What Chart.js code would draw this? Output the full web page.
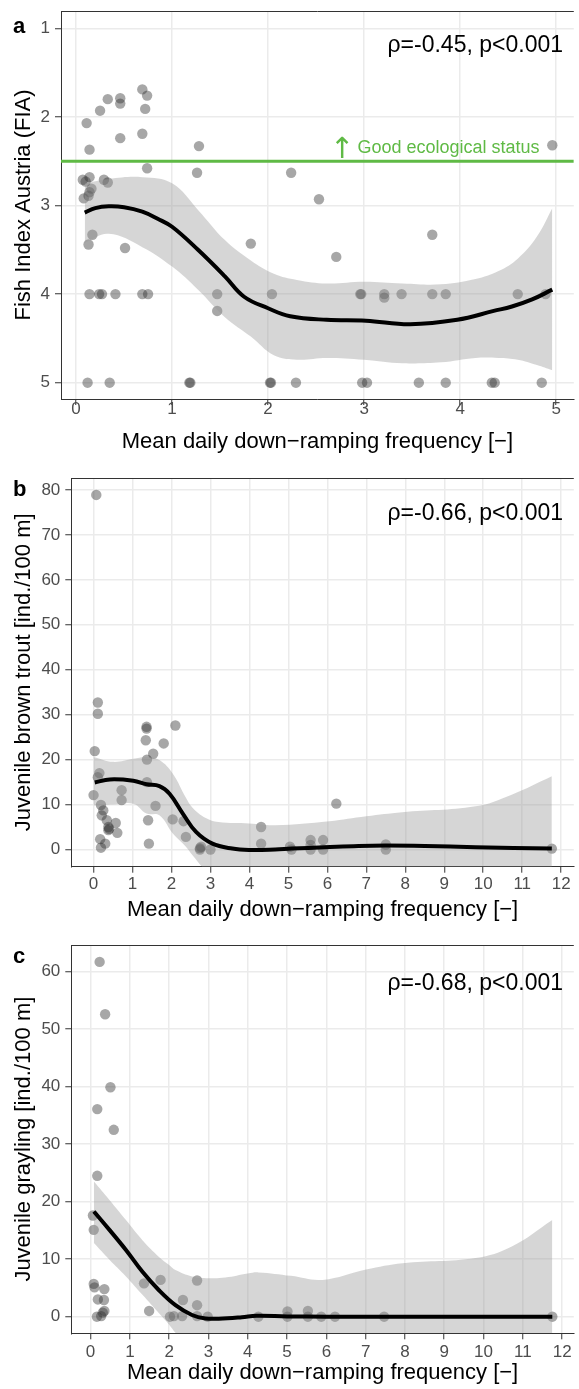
<!DOCTYPE html>
<html><head><meta charset="utf-8">
<script src="https://cdn.jsdelivr.net/npm/chart.js@4/dist/chart.umd.min.js"></script>
<style>
html,body{margin:0;padding:0;background:#fff;width:579px;height:1389px;overflow:hidden;position:relative;}
canvas{position:absolute;left:0;}
</style></head><body>
<canvas id="ca" width="579" height="467" style="top:0px"></canvas>
<canvas id="cb" width="579" height="467" style="top:467px"></canvas>
<canvas id="cc" width="579" height="455" style="top:934px"></canvas>
<script>
// ---------------- DATA ----------------
const xTitle = "Mean daily down\u2212ramping frequency [\u2212]";

// Panel a: Fish Index Austria
const fiaX = [0.69,0.74,0.33,0.46,0.46,0.25,0.72,0.11,0.46,0.69,0.14,1.28,4.96,0.74,1.26,2.24,2.53,0.07,0.14,0.10,0.16,0.14,0.08,0.13,0.29,0.33,0.17,0.13,0.51,1.82,3.71,2.71,
  0.14,0.24,0.27,0.41,0.69,0.75,1.47,2.04,2.96,2.97,3.21,3.39,3.71,3.85,4.60,4.89,3.21,1.47,
  0.12,0.35,1.18,1.19,2.02,2.03,2.29,2.98,3.03,3.57,3.85,4.33,4.36,4.85];
const fiaY = [1.69,1.76,1.80,1.79,1.85,1.93,1.91,2.07,2.24,2.19,2.37,2.33,2.32,2.58,2.63,2.63,2.93,2.71,2.68,2.73,2.81,2.85,2.92,2.89,2.71,2.74,3.33,3.44,3.48,3.43,3.33,3.58,
  4,4,4,4,4,4,4,4,4,4,4,4,4,4,4,4,4.04,4.19,
  5,5,5,5,5,5,5,5,5,5,5,5,5,5];
const fiaSmoothX = [0.09,0.2,0.34,0.5,0.69,0.85,1.0,1.27,1.55,1.75,2.0,2.23,2.61,3.02,3.48,3.97,4.35,4.54,4.75,4.96];
const fiaSmoothY = [3.08,3.03,3.01,3.02,3.07,3.15,3.24,3.50,3.80,4.03,4.16,4.25,4.29,4.30,4.34,4.29,4.19,4.14,4.06,3.95];
const fiaBandX = [0.09,0.34,0.69,1.0,1.27,1.55,1.82,2.06,2.3,2.61,3.0,3.4,3.8,4.16,4.4,4.6,4.8,4.96];
const fiaBandUpper = [2.75,2.70,2.68,2.75,3.05,3.39,3.62,3.77,3.84,3.88,3.86,3.88,3.89,3.83,3.74,3.60,3.35,3.03];
const fiaBandLower = [3.42,3.32,3.47,3.69,3.95,4.26,4.48,4.69,4.74,4.72,4.74,4.78,4.77,4.72,4.72,4.74,4.80,4.86];
const fiaTicksX = [0,1,2,3,4,5];
const fiaTicksY = [1,2,3,4,5];
const goodStatusFIA = 2.5;

// Panel b: Juvenile brown trout
const troutX = [0.07,0.11,0.11,0.03,0.15,0.11,0.0,0.19,0.25,0.21,0.34,0.38,0.38,0.40,0.57,0.61,0.17,0.30,0.19,0.72,0.72,
  1.36,1.36,1.34,1.53,1.37,1.80,2.10,1.37,1.59,1.40,1.42,2.03,2.31,2.37,2.73,2.73,2.76,3.0,
  4.30,4.30,5.04,5.08,5.57,5.57,5.57,5.89,5.89,6.23,7.50,7.50,11.76];
const troutY = [78.9,32.7,30.2,21.9,17.0,16.1,12.1,9.9,8.7,7.6,6.5,5.0,4.3,4.6,5.9,3.7,2.3,1.3,0.4,13.2,11.0,
  27.3,26.9,24.3,21.3,20.0,23.6,27.6,15.0,9.7,6.5,1.3,6.7,6.3,2.8,0.3,0.0,0.6,0.0,
  5.0,1.3,0.6,0.0,2.1,1.0,0.0,2.1,0.0,10.2,1.1,0.0,0.2];
const troutSmoothX = [0.03,0.42,1.02,1.36,1.69,1.95,2.29,2.63,3.05,3.56,4.0,4.66,5.08,5.93,6.8,7.5,8.5,9.8,11.76];
const troutSmoothY = [14.9,15.6,15.3,14.5,14.1,12.4,8.0,3.9,1.3,0.2,-0.1,0.0,0.2,0.5,0.8,0.9,0.8,0.5,0.2];
const troutBandX = [0.0,0.5,1.02,1.36,1.69,2.03,2.37,2.54,2.88,3.2,4.0,4.66,6.05,7.0,7.92,9.8,10.73,11.76];
const troutBandUpper = [20.6,19.5,20.2,20.6,19.9,16.9,11.5,9.3,7.0,6.1,5.8,5.4,6.3,7.4,8.3,9.6,12.2,16.3];
const troutBandLower = [9.8,10.0,10.2,8.0,7.6,3.6,0.6,-1.3,-4.6,-6.0,-5.8,-5.2,-5.0,-5.7,-6.5,-8.6,-10.8,-15.9];
const troutTicksX = [0,1,2,3,4,5,6,7,8,9,10,11,12];
const troutTicksY = [0,10,20,30,40,50,60,70,80];

// Panel c: Juvenile grayling
const graylingX = [0.23,0.37,0.505,0.17,0.59,0.17,0.06,0.08,0.08,0.10,0.35,0.185,0.34,0.35,0.31,0.16,0.27,
  1.36,1.78,1.49,2.02,2.12,2.33,2.35,2.71,2.71,2.71,2.98,4.27,5.01,5.01,5.53,5.53,5.87,6.22,7.47,11.75];
const graylingY = [61.7,52.6,39.9,36.1,32.5,24.5,17.6,15.1,5.7,5.1,4.8,3.0,2.9,1.0,0.7,0.0,0.1,
  5.8,6.4,1.0,0.0,0.1,0.1,2.9,6.3,2.0,0.1,0.0,0.0,0.9,0.0,1.0,0.0,0.0,0.0,0.0,0.0];
const graylingSmoothX = [0.084,0.48,0.9,1.32,1.74,2.16,2.58,2.92,3.26,3.85,4.22,5.0,6.0,7.5,9.0,10.5,11.75];
const graylingSmoothY = [18.3,15.1,11.6,7.8,4.6,2.0,0.3,-0.3,-0.35,-0.1,0.15,0.05,0.0,0.0,0.0,0.0,0.0];
const graylingBandX = [0.084,0.48,0.9,1.32,1.74,2.0,2.16,2.58,3.0,3.43,4.0,4.27,5.1,5.9,7.01,7.94,9.8,10.72,11.75];
const graylingBandUpper = [23.5,20.3,16.8,13.3,10.4,9.0,8.1,7.0,6.7,6.8,7.5,7.7,7.1,6.4,8.2,9.3,10.2,12.2,16.8];
const graylingBandLower = [12.8,9.9,7.0,3.8,0.6,-1.4,-2.8,-6.0,-7.3,-7.2,-7.3,-7.4,-7.0,-6.4,-8.2,-9.3,-10.2,-12.2,-16.8];
const graylingTicksX = [0,1,2,3,4,5,6,7,8,9,10,11,12];
const graylingTicksY = [0,10,20,30,40,50,60];

// ---------------- STYLE ----------------
const FONT = "'Liberation Sans', Arial, Helvetica, sans-serif";
Chart.defaults.font.family = FONT;
const POINT_COLOR = 'rgba(45,45,45,0.42)';
const BAND_COLOR = 'rgba(153,153,153,0.40)';
const GRID = '#ebebeb', AXIS = '#333333', TICKTXT = '#4d4d4d';
const GREEN = '#5fba45';

function pts(xs, ys){ return xs.map((x,i)=>({x:x, y:ys[i]})); }

const annotPlugin = {
  id:'annot',
  afterDraw(chart, args, o) {
    const ctx = chart.ctx, a = chart.chartArea;
    ctx.save();
    ctx.strokeStyle = AXIS; ctx.lineWidth = 1;
    ctx.beginPath(); ctx.moveTo(a.left, a.top + 0.5); ctx.lineTo(a.right, a.top + 0.5); ctx.stroke();
    ctx.fillStyle = '#000'; ctx.textAlign = 'left'; ctx.textBaseline = 'alphabetic';
    ctx.font = 'bold 22px ' + FONT;
    ctx.fillText(o.letter, 13, o.letterY);
    ctx.font = '23px ' + FONT; ctx.textAlign = 'right';
    ctx.fillText(o.rho, 563, o.rhoY);
    if (o.good) {
      const xs = chart.scales.x, ys = chart.scales.y;
      const ly = ys.getPixelForValue(o.good.value);
      ctx.fillStyle = GREEN; ctx.textAlign = 'left';
      ctx.font = '18px ' + FONT;
      ctx.fillText(o.good.text, xs.getPixelForValue(o.good.textX), ly - 8);
      ctx.font = '29px "DejaVu Sans"'; ctx.textAlign = 'center';
      ctx.fillText('\u2191', xs.getPixelForValue(o.good.arrowX), ly - 3);
    }
    ctx.restore();
  }
};

function makeChart(id, c) {
  const datasets = [
    {type:'line', data: pts(c.smoothX, c.smoothY), borderColor:'#000', borderWidth:4, pointRadius:0, tension:0.4, fill:false, order:0},
    {type:'line', data: pts(c.bandX, c.bandUpper), borderWidth:0, borderColor:'rgba(0,0,0,0)', pointRadius:0, tension:0.4, backgroundColor:BAND_COLOR, fill:'+1', order:2},
    {type:'line', data: pts(c.bandX, c.bandLower), borderWidth:0, borderColor:'rgba(0,0,0,0)', pointRadius:0, tension:0.4, fill:false, order:2},
    {type:'scatter', data: pts(c.x, c.y), pointRadius:5.2, backgroundColor:POINT_COLOR, borderWidth:0, order:3}
  ];
  if (c.hline !== undefined) {
    datasets.push({type:'line', data:[{x:c.xMin,y:c.hline},{x:c.xMax,y:c.hline}], borderColor:GREEN, borderWidth:3, pointRadius:0, fill:false, order:1});
  }
  return new Chart(document.getElementById(id), {
    type:'scatter',
    data:{datasets},
    options:{
      responsive:false, animation:false, events:[],
      layout:{padding:{top:11,left:0,right:0,bottom:0}},
      plugins:{legend:{display:false}, tooltip:{enabled:false},
        annot:{letter:c.letter, letterY:c.letterY, rho:c.rho, rhoY:c.rhoY, good:c.good}},
      scales:{
        x:{type:'linear', min:c.xMin, max:c.xMax,
          afterBuildTicks: s => { s.ticks = c.ticksX.map(v=>({value:v})); },
          afterFit: s => { s.height = c.xAxisH; s.paddingLeft = 0; s.paddingRight = 0; },
          grid:{color:GRID, lineWidth:1.5, drawTicks:true, tickLength:6, tickColor:AXIS, tickWidth:1},
          border:{display:true, color:AXIS, width:1},
          ticks:{color:TICKTXT, font:{size:17, lineHeight:1}, padding:c.xPad, maxRotation:0, autoSkip:false},
          title:{display:true, text:xTitle, color:'#000', font:{size:22, lineHeight:1}, padding:{top:0, bottom:c.titlePad}}
        },
        y:{type:'linear', min:c.yMin, max:c.yMax, reverse:!!c.reverse,
          afterBuildTicks: s => { s.ticks = c.ticksY.map(v=>({value:v})); },
          afterFit: s => { s.width = c.yAxisW; s.paddingTop = 0; s.paddingBottom = 0; },
          grid:{color:GRID, lineWidth:1.5, drawTicks:true, tickLength:6, tickColor:AXIS, tickWidth:1},
          border:{display:true, color:AXIS, width:1},
          ticks:{color:TICKTXT, font:{size:17, lineHeight:1}, padding:5, autoSkip:false},
          title:{display:true, text:c.yTitle, color:'#000', font:{size:22, lineHeight:1}, padding:{top:13, bottom:0}}
        }
      }
    },
    plugins:[annotPlugin]
  });
}

makeChart('ca', {
  x:fiaX, y:fiaY, smoothX:fiaSmoothX, smoothY:fiaSmoothY, bandX:fiaBandX, bandUpper:fiaBandUpper, bandLower:fiaBandLower,
  ticksX:fiaTicksX, ticksY:fiaTicksY, xMin:-0.157, xMax:5.184, yMin:0.805, yMax:5.184, reverse:true,
  xAxisH:68, yAxisW:61, xPad:-4.5, titlePad:13.6, yTitle:'Fish Index Austria (FIA)',
  letter:'a', letterY:33, rho:'\u03c1=-0.45, p<0.001', rhoY:52, hline:goodStatusFIA,
  good:{value:goodStatusFIA, text:'Good ecological status', textX:2.93, arrowX:2.77}
});
makeChart('cb', {
  x:troutX, y:troutY, smoothX:troutSmoothX, smoothY:troutSmoothY, bandX:troutBandX, bandUpper:troutBandUpper, bandLower:troutBandLower,
  ticksX:troutTicksX, ticksY:troutTicksY, xMin:-0.571, xMax:12.324, yMin:-3.83, yMax:82.67,
  xAxisH:67.3, yAxisW:71.3, xPad:2.8, titlePad:12.6, yTitle:'Juvenile brown trout [ind./100 m]',
  letter:'b', letterY:29, rho:'\u03c1=-0.66, p<0.001', rhoY:53
});
makeChart('cc', {
  x:graylingX, y:graylingY, smoothX:graylingSmoothX, smoothY:graylingSmoothY, bandX:graylingBandX, bandUpper:graylingBandUpper, bandLower:graylingBandLower,
  ticksX:graylingTicksX, ticksY:graylingTicksY, xMin:-0.491, xMax:12.297, yMin:-2.89, yMax:64.64,
  xAxisH:55.7, yAxisW:71.3, xPad:4.2, titlePad:4.6, yTitle:'Juvenile grayling [ind./100 m]',
  letter:'c', letterY:29, rho:'\u03c1=-0.68, p<0.001', rhoY:56
});
</script>
</body></html>
